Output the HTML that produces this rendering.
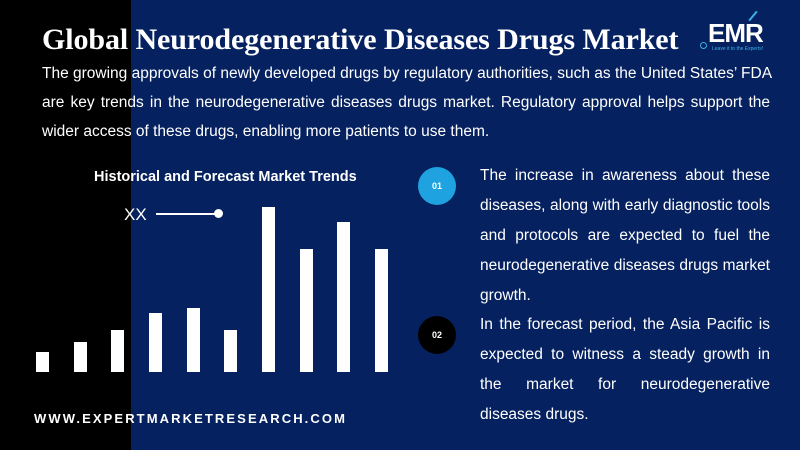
<!DOCTYPE html>
<html><head><meta charset="utf-8"><style>
*{margin:0;padding:0;box-sizing:border-box}
body{width:800px;height:450px;overflow:hidden;background:#05215f;position:relative;font-family:"Liberation Sans",sans-serif;color:#fff}
.blk{position:absolute;left:0;top:0;width:131px;height:450px;background:#000}
.abs{position:absolute}
.title{left:42px;top:23px;font-family:"Liberation Serif",serif;font-weight:bold;font-size:30px;white-space:nowrap;letter-spacing:-0.1px}
.ln{position:absolute;white-space:nowrap;text-align:justify;text-align-last:justify;font-size:15.5px;line-height:20px}
.ln.l{text-align-last:left}
.bar{position:absolute;background:#fff;width:13px}
.circ{position:absolute;width:38px;height:38px;border-radius:50%;font-size:9px;font-weight:bold;text-align:center;line-height:38px}
</style></head><body>
<div class="blk"></div>
<div class="abs title">Global Neurodegenerative Diseases Drugs Market</div>
<div class="ln" style="left:42px;top:64px;width:728px">The growing approvals of newly developed drugs by regulatory authorities, such as the United States’ FDA</div>
<div class="ln" style="left:42px;top:93px;width:728px">are key trends in the neurodegenerative diseases drugs market. Regulatory approval helps support the</div>
<div class="ln l" style="left:42px;top:122px;width:728px">wider access of these drugs, enabling more patients to use them.</div>

<div class="abs" style="left:94px;top:169px;font-weight:bold;font-size:14.5px">Historical and Forecast Market Trends</div>
<div class="abs" style="left:124px;top:205px;font-size:17px;font-weight:300;color:#fff">XX</div>
<div class="abs" style="left:156px;top:213px;width:60px;height:1.5px;background:#fff"></div>
<div class="abs" style="left:214px;top:209px;width:9px;height:9px;border-radius:50%;background:#fff"></div>

<div class="bar" style="left:36px;top:352px;height:20px"></div>
<div class="bar" style="left:74px;top:342px;height:30px"></div>
<div class="bar" style="left:111px;top:330px;height:42px"></div>
<div class="bar" style="left:149px;top:313px;height:59px"></div>
<div class="bar" style="left:187px;top:308px;height:64px"></div>
<div class="bar" style="left:224px;top:330px;height:42px"></div>
<div class="bar" style="left:262px;top:207px;height:165px"></div>
<div class="bar" style="left:300px;top:249px;height:123px"></div>
<div class="bar" style="left:337px;top:222px;height:150px"></div>
<div class="bar" style="left:375px;top:249px;height:123px"></div>

<div class="abs" style="left:34px;top:411px;font-weight:bold;font-size:13px;letter-spacing:2.1px">WWW.EXPERTMARKETRESEARCH.COM</div>

<div class="circ" style="left:418px;top:167px;background:#1fa3e0">01</div>
<div class="circ" style="left:418px;top:316px;background:#000">02</div>

<div class="ln" style="left:480px;top:166px;width:290px">The increase in awareness about these</div>
<div class="ln" style="left:480px;top:196px;width:290px">diseases, along with early diagnostic tools</div>
<div class="ln" style="left:480px;top:226px;width:290px">and protocols are expected to fuel the</div>
<div class="ln" style="left:480px;top:256px;width:290px">neurodegenerative diseases drugs market</div>
<div class="ln l" style="left:480px;top:286px;width:290px">growth.</div>
<div class="ln" style="left:480px;top:315px;width:290px">In the forecast period, the Asia Pacific is</div>
<div class="ln" style="left:480px;top:345px;width:290px">expected to witness a steady growth in</div>
<div class="ln" style="left:480px;top:375px;width:290px">the market for neurodegenerative</div>
<div class="ln l" style="left:480px;top:405px;width:290px">diseases drugs.</div>

<div class="abs" style="left:708px;top:18px;font-weight:bold;font-size:26px;letter-spacing:-1px">EMR</div>
<div class="abs" style="left:700px;top:42px;width:7px;height:7px;border:1.5px solid #3bb0e8;border-radius:50%"></div>
<div class="abs" style="left:712px;top:46px;font-size:5px;color:#3bb0e8">Leave it to the Experts!</div>
<div class="abs" style="left:752px;top:10px;width:2px;height:12px;background:#3bb0e8;transform:rotate(40deg)"></div>
</body></html>
